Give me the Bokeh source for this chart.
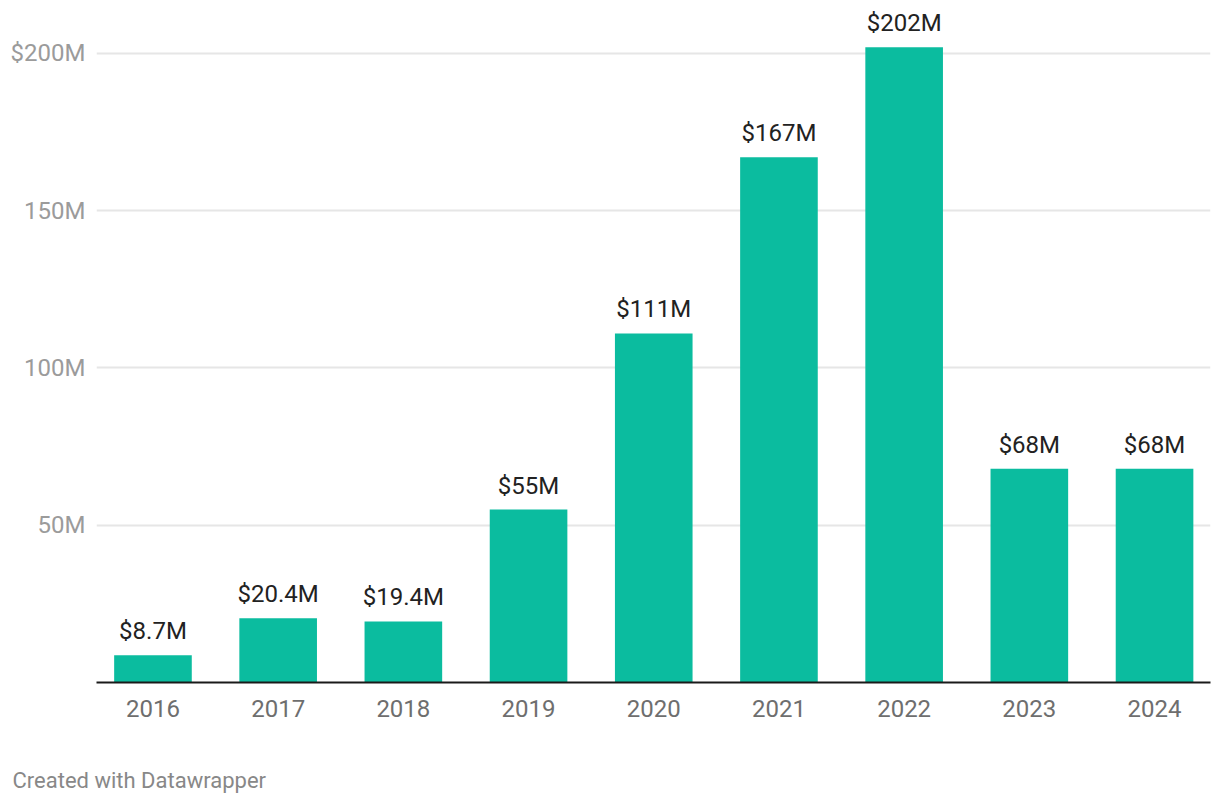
from bokeh.plotting import figure
from bokeh.models import FixedTicker, Range1d, Title, ColumnDataSource
from bokeh.core.properties import value
from bokeh.embed import file_html
from bokeh.resources import INLINE

years = ["2016", "2017", "2018", "2019", "2020", "2021", "2022", "2023", "2024"]
amounts = [8.7, 20.4, 19.4, 55, 111, 167, 202, 68, 68]
value_labels = ["$8.7M", "$20.4M", "$19.4M", "$55M", "$111M", "$167M", "$202M", "$68M", "$68M"]
y_ticks = [50, 100, 150, 200]
y_tick_labels = ["50M", "100M", "150M", "$200M"]

FONT = "Roboto"
xs = list(range(len(years)))
src = ColumnDataSource(dict(x=xs, y=amounts, lab=value_labels))

p = figure(width=1212, height=796, output_backend="svg", toolbar_location=None,
           x_range=Range1d(-0.451, len(years) - 1 + 0.447), y_range=Range1d(0, 216.85),
           min_border_left=96, min_border_right=2, min_border_top=0, min_border_bottom=114)
p.outline_line_color = None
p.background_fill_color = "white"
p.border_fill_color = "white"

p.vbar(x="x", top="y", width=0.62, bottom=0, source=src, color="#0bbc9f", line_color=None)
p.text(x="x", y="y", text="lab", source=src, text_align="center", text_baseline="alphabetic",
       y_offset=-24, text_font=value(FONT), text_font_size="24px", text_color="#222222")

# axes
p.xaxis.ticker = FixedTicker(ticks=xs)
p.xaxis.major_label_overrides = {i: y for i, y in enumerate(years)}
p.xaxis.axis_line_color = "#1a1a1a"
p.xaxis.axis_line_width = 2
p.xaxis.major_tick_line_color = None
p.xaxis.minor_tick_line_color = None
p.xaxis.major_tick_out = 0
p.xaxis.major_label_standoff = 17
p.xaxis.major_label_text_font = FONT
p.xaxis.major_label_text_font_size = "24px"
p.xaxis.major_label_text_color = "#6e6e6e"

p.yaxis.ticker = FixedTicker(ticks=y_ticks)
p.yaxis.major_label_overrides = {t: l for t, l in zip(y_ticks, y_tick_labels)}
p.yaxis.axis_line_color = None
p.yaxis.major_tick_line_color = None
p.yaxis.minor_tick_line_color = None
p.yaxis.major_tick_out = 0
p.yaxis.major_label_standoff = 11
p.yaxis.major_label_text_font = FONT
p.yaxis.major_label_text_font_size = "24px"
p.yaxis.major_label_text_color = "#9b9b9b"

p.xgrid.grid_line_color = None
p.ygrid.ticker = FixedTicker(ticks=y_ticks)
p.ygrid.grid_line_color = "#e6e6e6"
p.ygrid.grid_line_width = 2

spacer = Title(text=" ", align="left", standoff=43, text_font=FONT, text_font_size="1px")
p.add_layout(spacer, "below")
credit = Title(text="Created with Datawrapper", align="left", offset=-84, standoff=0,
               text_font=FONT, text_font_size="22px", text_font_style="normal",
               text_color="#888888")
p.add_layout(credit, "below")

open("out.html", "w").write(file_html(p, INLINE))
